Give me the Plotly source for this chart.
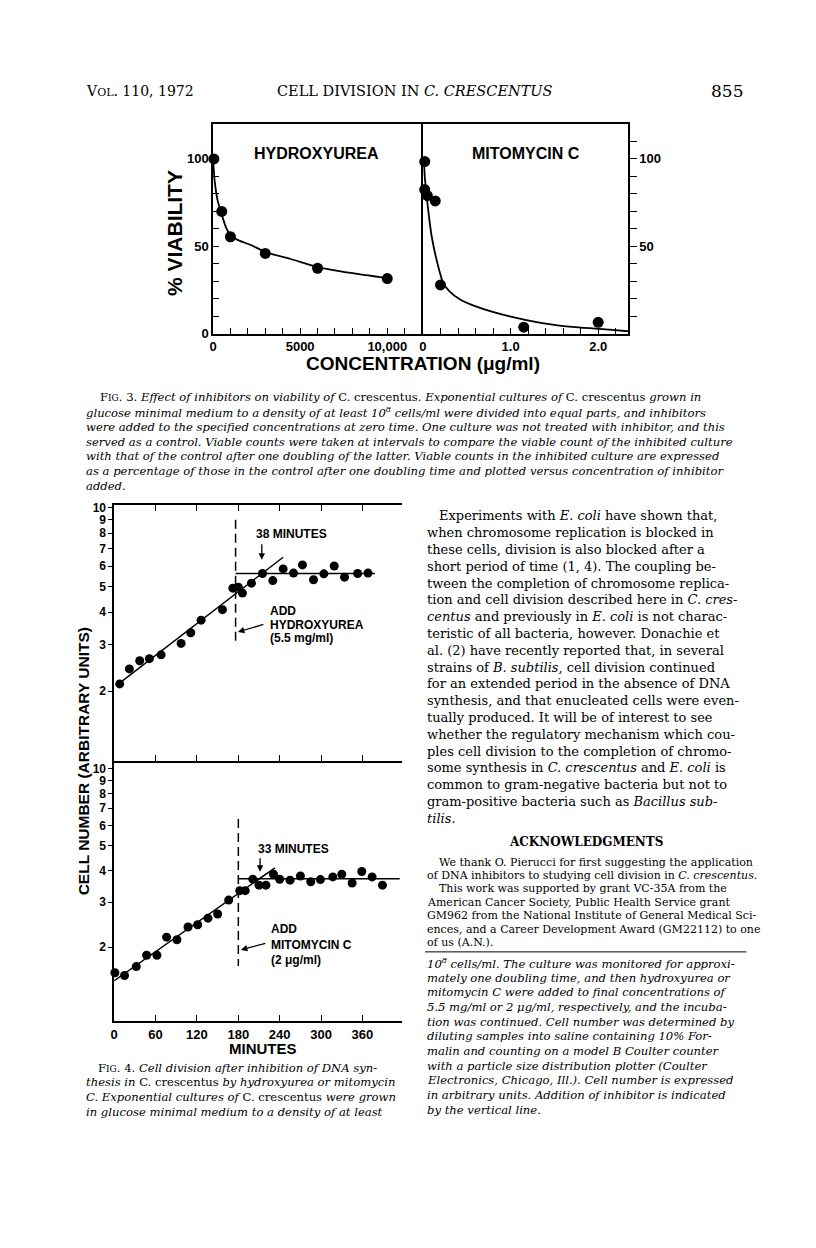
import plotly.graph_objects as go

W, H = 816, 1248

# ---------------- Fig. 3 : % viability vs concentration ----------------
hu_conc = [50, 500, 1000, 3000, 6000, 10000]
hu_viab = [100, 70, 55.5, 46, 37.5, 31.6]
hu_curve_conc = [0, 100, 270, 460, 740, 1030, 1500, 2170, 3080, 4460, 6080, 7890, 10000]
hu_curve_viab = [100, 87, 76, 69.5, 61, 56, 53.3, 50.8, 46.5, 42.8, 38, 34.8, 31.8]

mc_conc = [0.02, 0.02, 0.05, 0.14, 0.2, 1.15, 2.0]
mc_viab = [98.5, 82.5, 79, 76, 28, 3.8, 6.6]
mc_curve_conc = [0.013, 0.02, 0.04, 0.06, 0.1, 0.155, 0.23, 0.3, 0.42, 0.61, 0.99, 1.36, 1.74, 2.13, 2.34]
mc_curve_viab = [98, 90, 80, 70.6, 55.5, 42.4, 29.2, 24.5, 19.8, 15.6, 10, 6.2, 3.8, 2.4, 1.5]

hu_xticks = [0, 5000, 10000]
hu_xlabels = ["0", "5000", "10,000"]
mc_xticks = [0, 1, 2]
mc_xlabels = ["0", "1.0", "2.0"]
viab_ticks = [0, 50, 100]

# ---------------- Fig. 4 : cell number vs minutes ----------------
hu_t = [8, 22, 37, 51, 68, 97, 111, 126, 157, 172, 180, 186, 199, 215, 230, 245, 260, 273, 289, 304, 319, 334, 353, 368]
hu_n = [2.13, 2.43, 2.61, 2.66, 2.75, 3.04, 3.34, 3.73, 4.09, 4.94, 4.98, 4.73, 5.16, 5.62, 5.28, 5.85, 5.64, 6.06,
        5.32, 5.60, 6.00, 5.44, 5.62, 5.64]
hu_growth_t, hu_growth_n = [3, 245], [2.10, 6.48]
hu_plateau_t, hu_plateau_n = [176, 378], [5.62, 5.62]
hu_add_t, hu_add_n = [176, 176], [9.0, 3.0]

mc_t = [1, 15, 32, 47, 62, 76, 91, 107, 121, 136, 150, 166, 182, 190, 201, 210, 220, 231, 240, 255, 270, 285, 299,
        317, 330, 345, 359, 374, 389]
mc_n = [1.59, 1.55, 1.68, 1.86, 1.86, 2.19, 2.14, 2.40, 2.45, 2.60, 2.70, 3.06, 3.33, 3.33, 3.69, 3.50, 3.50, 3.86,
        3.69, 3.66, 3.80, 3.61, 3.68, 3.77, 3.86, 3.57, 3.96, 3.77, 3.50]
mc_growth_t, mc_growth_n = [0, 233], [1.48, 4.09]
mc_plateau_t, mc_plateau_n = [180, 414], [3.71, 3.71]
mc_add_t, mc_add_n = [180, 180], [6.35, 1.69]

min_ticks = [0, 60, 120, 180, 240, 300, 360]
min_labels = ["0", "60", "120", "180", "240", "300", "360"]
cell_ticks = [2, 3, 4, 5, 6, 7, 8, 9, 10]
cell_labels = ["2", "3", "4", "5", "6", "7", "8", "9", "10"]

# ---------------- page text ----------------
fig3_caption = [
    "F<span style='font-size:9px'>IG</span>. 3. <i>Effect of inhibitors on viability of</i> C. crescentus<i>. Exponential cultures of</i> C. crescentus <i>grown in</i>",
    "<i>glucose minimal medium to a density of at least 10<sup>8</sup> cells/ml were divided into equal parts, and inhibitors</i>",
    "<i>were added to the specified concentrations at zero time. One culture was not treated with inhibitor, and this</i>",
    "<i>served as a control. Viable counts were taken at intervals to compare the viable count of the inhibited culture</i>",
    "<i>with that of the control after one doubling of the latter. Viable counts in the inhibited culture are expressed</i>",
    "<i>as a percentage of those in the control after one doubling time and plotted versus concentration of inhibitor</i>",
    "<i>added.</i>",
]
fig4_caption = [
    "F<span style='font-size:9px'>IG</span>. 4. <i>Cell division after inhibition of DNA syn-</i>",
    "<i>thesis in</i> C. crescentus <i>by hydroxyurea or mitomycin</i>",
    "<i>C. Exponential cultures of</i> C. crescentus <i>were grown</i>",
    "<i>in glucose minimal medium to a density of at least</i>",
]
body_text = [
    "Experiments with <i>E. coli</i> have shown that,",
    "when chromosome replication is blocked in",
    "these cells, division is also blocked after a",
    "short period of time (1, 4). The coupling be-",
    "tween the completion of chromosome replica-",
    "tion and cell division described here in <i>C. cres-</i>",
    "<i>centus</i> and previously in <i>E. coli</i> is not charac-",
    "teristic of all bacteria, however. Donachie et",
    "al. (2) have recently reported that, in several",
    "strains of <i>B. subtilis</i>, cell division continued",
    "for an extended period in the absence of DNA",
    "synthesis, and that enucleated cells were even-",
    "tually produced. It will be of interest to see",
    "whether the regulatory mechanism which cou-",
    "ples cell division to the completion of chromo-",
    "some synthesis in <i>C. crescentus</i> and <i>E. coli</i> is",
    "common to gram-negative bacteria but not to",
    "gram-positive bacteria such as <i>Bacillus sub-</i>",
    "<i>tilis</i>.",
]
ack_text = [
    "We thank O. Pierucci for first suggesting the application",
    "of DNA inhibitors to studying cell division in <i>C. crescentus</i>.",
    "This work was supported by grant VC-35A from the",
    "American Cancer Society, Public Health Service grant",
    "GM962 from the National Institute of General Medical Sci-",
    "ences, and a Career Development Award (GM22112) to one",
    "of us (A.N.).",
]
legend_cont = [
    "<i>10<sup>8</sup> cells/ml. The culture was monitored for approxi-</i>",
    "<i>mately one doubling time, and then hydroxyurea or</i>",
    "<i>mitomycin C were added to final concentrations of</i>",
    "<i>5.5 mg/ml or 2 μg/ml, respectively, and the incuba-</i>",
    "<i>tion was continued. Cell number was determined by</i>",
    "<i>diluting samples into saline containing 10% For-</i>",
    "<i>malin and counting on a model B Coulter counter</i>",
    "<i>with a particle size distribution plotter (Coulter</i>",
    "<i>Electronics, Chicago, Ill.). Cell number is expressed</i>",
    "<i>in arbitrary units. Addition of inhibitor is indicated</i>",
    "<i>by the vertical line.</i>",
]

SERIF = "DejaVu Serif"
SANS = "Liberation Sans"


def X(px):
    return px / W


def Y(py):
    return 1 - py / H


ann = []


def txt(s, px, py, size, family=SERIF, anchor="left", **kw):
    ann.append(dict(text=s, x=X(px), y=Y(py), xref="paper", yref="paper", xanchor=anchor, yanchor="middle",
                    showarrow=False, font=dict(size=size, family=family, color="black"), **kw))


def arrow(px, py, dx, dy, head=2):
    ann.append(dict(text="", x=X(px), y=Y(py), xref="paper", yref="paper", ax=dx, ay=dy, showarrow=True,
                    arrowhead=head, arrowsize=1, arrowwidth=1.3, arrowcolor="black"))


fig = go.Figure()
dot = dict(color="black", size=11)
dot4 = dict(color="black", size=9)
curve = dict(color="black", width=1.8, shape="spline", smoothing=0.6)

# Fig 3
fig.add_trace(go.Scatter(x=hu_curve_conc, y=hu_curve_viab, mode="lines", line=curve, xaxis="x", yaxis="y", cliponaxis=False))
fig.add_trace(go.Scatter(x=hu_conc, y=hu_viab, mode="markers", marker=dot, xaxis="x", yaxis="y", cliponaxis=False))
fig.add_trace(go.Scatter(x=mc_curve_conc, y=mc_curve_viab, mode="lines", line=curve, xaxis="x2", yaxis="y2", cliponaxis=False))
fig.add_trace(go.Scatter(x=mc_conc, y=mc_viab, mode="markers", marker=dot, xaxis="x2", yaxis="y2", cliponaxis=False))

# Fig 4 upper (hydroxyurea)
for tx, ny, dash in [(hu_growth_t, hu_growth_n, "solid"), (hu_plateau_t, hu_plateau_n, "solid"), (hu_add_t, hu_add_n, "9px,5px")]:
    fig.add_trace(go.Scatter(x=tx, y=ny, mode="lines", line=dict(color="black", width=1.5, dash=dash), xaxis="x3", yaxis="y3"))
fig.add_trace(go.Scatter(x=hu_t, y=hu_n, mode="markers", marker=dot4, xaxis="x3", yaxis="y3", cliponaxis=False))
# Fig 4 lower (mitomycin C)
for tx, ny, dash in [(mc_growth_t, mc_growth_n, "solid"), (mc_plateau_t, mc_plateau_n, "solid"), (mc_add_t, mc_add_n, "9px,5px")]:
    fig.add_trace(go.Scatter(x=tx, y=ny, mode="lines", line=dict(color="black", width=1.5, dash=dash), xaxis="x4", yaxis="y4"))
fig.add_trace(go.Scatter(x=mc_t, y=mc_n, mode="markers", marker=dot4, xaxis="x4", yaxis="y4", cliponaxis=False))

ax_common = dict(showline=True, linecolor="black", linewidth=1.5, showgrid=False, zeroline=False, tickcolor="black",
                 tickwidth=1.3, tickfont=dict(family=SANS, size=13, color="black", weight="bold"))
small_ticks = dict(family=SANS, size=12, color="black", weight="bold")

fig3_y = [Y(325), Y(113)]
fig4_x = [X(102.7), X(391.7)]
fig.update_layout(
    xaxis=dict(ax_common, domain=[X(202), X(413)], range=[0, 12050], anchor="y", mirror=True, ticks="inside", ticklen=6,
               tickvals=hu_xticks, ticktext=hu_xlabels,
               minor=dict(tickmode="array", tickvals=list(range(1000, 12000, 1000)), ticks="inside", ticklen=6, tickcolor="black")),
    yaxis=dict(ax_common, domain=fig3_y, range=[0, 120], anchor="x", mirror=False, ticks="inside", ticklen=6,
               tickvals=viab_ticks, ticktext=[str(v) for v in viab_ticks],
               minor=dict(tickmode="array", tickvals=list(range(10, 100, 10)), ticks="inside", ticklen=6, tickcolor="black")),
    xaxis2=dict(ax_common, domain=[X(413), X(619)], range=[0, 2.34], anchor="y2", mirror=True, ticks="inside", ticklen=6,
                tickvals=mc_xticks, ticktext=mc_xlabels,
                minor=dict(tickmode="array", tickvals=[0.2, 0.4, 0.6, 0.8, 1.2, 1.4, 1.6, 1.8, 2.2], ticks="inside", ticklen=6, tickcolor="black")),
    yaxis2=dict(ax_common, domain=fig3_y, range=[0, 120], anchor="x2", side="right", mirror=True, ticks="outside", ticklen=7,
                tickvals=[50, 100], ticktext=["50", "100"],
                minor=dict(tickmode="array", tickvals=[10, 20, 30, 40, 60, 70, 80, 90, 110], ticks="outside", ticklen=7, tickcolor="black")),
    xaxis3=dict(ax_common, domain=fig4_x, range=[0, 417], anchor="y3", mirror="allticks", ticks="inside", ticklen=6,
                tickvals=min_ticks, showticklabels=False),
    yaxis3=dict(ax_common, domain=[Y(756), Y(498)], type="log", range=[0.0354, 1.0101], anchor="x3", mirror=False,
                ticks="outside", ticklen=4, tickvals=cell_ticks, ticktext=cell_labels, tickfont=small_ticks),
    yaxis5=dict(ax_common, overlaying="y3", type="log", range=[0.0354, 1.0101], anchor="x3", side="right",
                ticks="inside", ticklen=6, tickvals=cell_ticks, showticklabels=False),
    xaxis4=dict(ax_common, domain=fig4_x, range=[0, 417], anchor="y4", mirror=False, ticks="inside", ticklen=6,
                tickvals=min_ticks, ticktext=min_labels),
    yaxis4=dict(ax_common, domain=[Y(1019), Y(756)], type="log", range=[0.0116, 1.031], anchor="x4", mirror=False,
                ticks="outside", ticklen=4, tickvals=cell_ticks, ticktext=cell_labels, tickfont=small_ticks),
    yaxis6=dict(ax_common, overlaying="y4", type="log", range=[0.0116, 1.031], anchor="x4", side="right",
                ticks="inside", ticklen=6, tickvals=cell_ticks, showticklabels=False),
)

# ---- header ----
txt("V<span style='font-size:11px'>OL</span>. 110, 1972", 72, 80, 14)
txt("CELL DIVISION IN <i>C. CRESCENTUS</i>", 405, 80, 14.5, anchor="center")
txt("855", 737, 80, 17, anchor="right")

# ---- Fig 3 lettering ----
txt("<b>HYDROXYUREA</b>", 306, 143, 16, SANS, "center")
txt("<b>MITOMYCIN C</b>", 517, 143, 16, SANS, "center")
txt("<b>% VIABILITY</b>", 164, 223, 21, SANS, "center", textangle=-90)
txt("<b>CONCENTRATION (μg/ml)</b>", 413, 355, 19, SANS, "center")

for i, s in enumerate(fig3_caption):
    txt(s, 86 if i == 0 else 72, 389 + 14.9 * i, 11.6)

# ---- Fig 4 lettering ----
txt("<b>CELL NUMBER (ARBITRARY UNITS)</b>", 72, 757, 15.5, SANS, "center", textangle=-90)
txt("<b>MINUTES</b>", 252, 1047, 15, SANS, "center")
txt("<b>38 MINUTES</b>", 243, 527, 12, SANS)
arrow(251, 553, 0, -17)
txt("<b>ADD</b>", 257, 605, 12, SANS)
txt("<b>HYDROXYUREA</b>", 257, 619, 12, SANS)
txt("<b>(5.5 mg/ml)</b>", 257, 632, 12, SANS)
arrow(227, 626, 27, -8)
txt("<b>33 MINUTES</b>", 245, 845, 12, SANS)
arrow(249.3, 868, 0, -15)
txt("<b>ADD</b>", 258, 926, 12, SANS)
txt("<b>MITOMYCIN C</b>", 258, 942, 12, SANS)
txt("<b>(2 μg/ml)</b>", 258, 957, 12, SANS)
arrow(230, 947, 26, -7)

for i, s in enumerate(fig4_caption):
    txt(s, 84 if i == 0 else 72, 1066 + 14.8 * i, 11.6)

# ---- right column ----
for i, s in enumerate(body_text):
    txt(s, 427 if i == 0 else 415, 508.8 + 16.96 * i, 13)
txt("<b>ACKNOWLEDGMENTS</b>", 577, 838, 12, anchor="center")
for i, s in enumerate(ack_text):
    txt(s, 427 if i in (0, 2) else 415, 858.3 + 13.6 * i, 11)
for i, s in enumerate(legend_cont):
    txt(s, 415, 960.2 + 14.8 * i, 11.6)

fig.add_shape(type="line", xref="paper", yref="paper", x0=X(415), x1=X(738), y0=Y(949), y1=Y(949),
              line=dict(color="black", width=1))

fig.update_layout(width=W, height=H, margin=dict(l=0, r=0, t=0, b=0), showlegend=False,
                  paper_bgcolor="white", plot_bgcolor="rgba(0,0,0,0)", annotations=ann)
fig.write_html("out.html")
